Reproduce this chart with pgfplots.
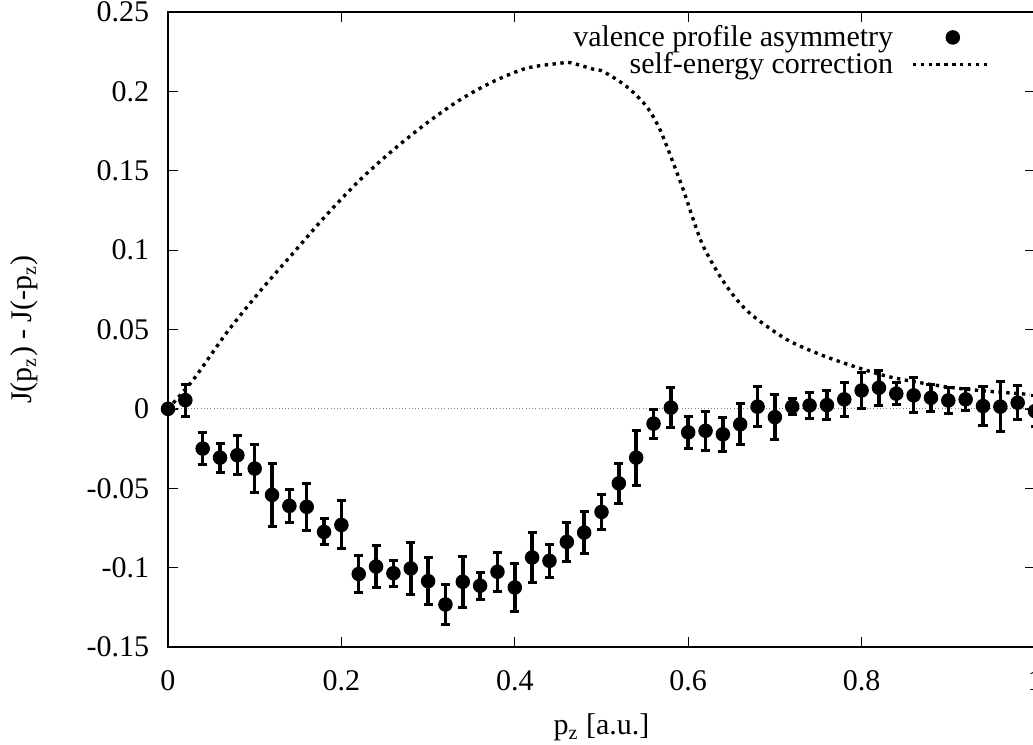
\documentclass[border=0pt]{standalone}
\usepackage{fontspec}
\setmainfont{Liberation Serif}
\usepackage{pgfplots}
\usepackage{pgfplotstable}
\pgfplotsset{compat=1.18}

\pgfplotstableread{
x y e
0.00 0.0000 0
0.02 0.0055 0.0100
0.04 -0.0250 0.0099
0.06 -0.0307 0.0092
0.08 -0.0292 0.0124
0.10 -0.0376 0.0149
0.12 -0.0542 0.0196
0.14 -0.0611 0.0103
0.16 -0.0617 0.0149
0.18 -0.0775 0.0082
0.20 -0.0731 0.0151
0.22 -0.1040 0.0115
0.24 -0.0993 0.0134
0.26 -0.1035 0.0083
0.28 -0.1005 0.0166
0.30 -0.1085 0.0148
0.32 -0.1232 0.0125
0.34 -0.1089 0.0160
0.36 -0.1114 0.0084
0.38 -0.1026 0.0122
0.40 -0.1125 0.0150
0.42 -0.0936 0.0157
0.44 -0.0957 0.0103
0.46 -0.0838 0.0122
0.48 -0.0779 0.0133
0.50 -0.0649 0.0112
0.52 -0.0469 0.0128
0.54 -0.0307 0.0173
0.56 -0.0093 0.0092
0.58 0.0008 0.0124
0.60 -0.0148 0.0103
0.62 -0.0138 0.0124
0.64 -0.0160 0.0108
0.66 -0.0097 0.0128
0.68 0.0014 0.0126
0.70 -0.0052 0.0140
0.72 0.0014 0.0050
0.74 0.0022 0.0084
0.76 0.0024 0.0091
0.78 0.0060 0.0105
0.80 0.0116 0.0115
0.82 0.0133 0.0110
0.84 0.0096 0.0070
0.86 0.0085 0.0110
0.88 0.0070 0.0086
0.90 0.0053 0.0084
0.92 0.0060 0.0068
0.94 0.0018 0.0120
0.96 0.0014 0.0157
0.98 0.0039 0.0108
1.00 -0.0014 0.0100
}\asym

\pgfplotstableread{
x y
0.0000 0.0000
0.0300 0.0190
0.0677 0.0480
0.1061 0.0741
0.1445 0.0982
0.1830 0.1223
0.2215 0.1443
0.2599 0.1632
0.2984 0.1800
0.3368 0.1947
0.3752 0.2062
0.4137 0.2146
0.4521 0.2177
0.4637 0.2181
0.4905 0.2140
0.5021 0.2125
0.5291 0.2030
0.5521 0.1904
0.5675 0.1758
0.5828 0.1548
0.5943 0.1380
0.6059 0.1192
0.6174 0.1024
0.6367 0.0835
0.6559 0.0689
0.6751 0.0584
0.7136 0.0437
0.7520 0.0343
0.7904 0.0269
0.8289 0.0206
0.8674 0.0165
0.9058 0.0133
0.9443 0.0112
0.9942 0.0091
}\selfen

\begin{document}
\begin{tikzpicture}[font=\fontsize{12}{14}\selectfont]
\begin{axis}[
  scale only axis, width=346.8pt, height=254pt,
  xmin=0, xmax=1, ymin=-0.15, ymax=0.25,
  clip=false,
  xtick={0,0.2,0.4,0.6,0.8,1}, xticklabels={0,0.2,0.4,0.6,0.8,1},
  ytick={-0.15,-0.1,-0.05,0,0.05,0.1,0.15,0.2,0.25},
  yticklabels={-0.15,-0.1,-0.05,0,0.05,0.1,0.15,0.2,0.25},
  tick align=inside, major tick length=4pt, minor tick num=0,
  axis line style={line width=0.5pt},
  tick style={black, line width=0.5pt},
  xticklabel style={yshift=-6pt},
  yticklabel style={xshift=-4pt},
  xlabel={p\textsubscript{z} [a.u.]},
  ylabel={J(p\textsubscript{z}) - J(-p\textsubscript{z})},
  xlabel style={at={(axis description cs:0.5,-0.127)}, anchor=center},
  ylabel style={at={(axis description cs:-0.166,0.5)}, anchor=center},
  legend plot pos=right,
  legend cell align=right,
  legend style={draw=none, fill=none, inner sep=0pt, nodes={inner sep=0pt},
    column sep=7.2pt, row sep=0.8pt,
    at={(axis description cs:1,1)}, anchor=north east, xshift=-16.8pt, yshift=-5pt},
]
\addplot[forget plot, gray, line width=0.4pt, dash pattern=on 0.4pt off 0.9pt] coordinates {(0,0) (1,0)};
\addplot[only marks, mark=*, mark size=2.7pt, black,
  legend image code/.code={\path[draw=none,fill=none] (0pt,0pt) rectangle (31.2pt,0.1pt); \fill[black] (16pt,0pt) circle[radius=2.7pt];},
  error bars/.cd, y dir=both, y explicit,
  error bar style={line width=1.4pt, black},
  error mark options={rotate=90, black, line width=1.2pt, mark size=1.8pt}]
  table[x=x, y=y, y error=e]{\asym};
\addlegendentry{valence profile asymmetry}
\addplot[black, line width=1.35pt, dash pattern=on 1.35pt off 1.8pt, smooth, no markers,
  legend image code/.code={\draw[black, line width=1.35pt, dash pattern=on 1.35pt off 1.8pt] (0pt,0pt) -- (31.2pt,0pt);}]
  table[x=x, y=y]{\selfen};
\addlegendentry{self-energy correction}
\coordinate (bbsw) at (rel axis cs:0,0);
\coordinate (bbne) at (rel axis cs:1,1);
\end{axis}
\pgfresetboundingbox
\path[use as bounding box] ([xshift=-67.2pt,yshift=-38.8pt]bbsw) rectangle ([xshift=-0.8pt,yshift=4.8pt]bbne);
\end{tikzpicture}
\end{document}
